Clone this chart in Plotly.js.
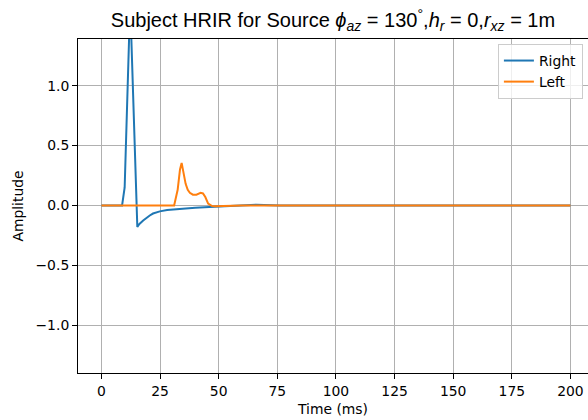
<!DOCTYPE html>
<html>
<head>
<meta charset="utf-8">
<script src="https://cdn.plot.ly/plotly-3.0.1.min.js"></script>
<style>html,body{margin:0;padding:0;background:#fff;}#chart{width:588px;height:420px;}</style>
</head>
<body>
<div id="chart"></div>
<script>
// Right ear HRIR
const timeRight = [0, 8.8, 9.9, 12.25, 15.3, 16.2, 17.8, 19.2, 20.6, 22.0, 24.9, 28.0, 33.4, 40.0, 46.0, 56.0, 66.0, 76.0, 200];
const ampRight  = [0, 0, 0.15, 1.70, -0.18, -0.155, -0.126, -0.103, -0.084, -0.068, -0.050, -0.038, -0.028, -0.020, -0.014, -0.003, 0.006, 0, 0];
// Left ear HRIR
const timeLeft = [0, 31.0, 32.5, 33.5, 34.2, 35.0, 35.9, 36.8, 37.7, 39.0, 40.5, 42.3, 43.3, 44.3, 45.5, 47.0, 48.5, 52.0, 60.0, 200];
const ampLeft  = [0, 0, 0.13, 0.30, 0.355, 0.28, 0.18, 0.13, 0.105, 0.09, 0.09, 0.105, 0.10, 0.07, 0.015, -0.004, -0.008, -0.005, 0, 0];

const xTicks = [0, 25, 50, 75, 100, 125, 150, 175, 200];
const yTicks = [-1.0, -0.5, 0.0, 0.5, 1.0];
const seriesNames = ["Right", "Left"];

const tickFont = {family: "DejaVu Sans", size: 13.9, color: "#000"};

const traces = [
  {x: timeRight, y: ampRight, name: seriesNames[0], mode: "lines",
   line: {color: "#1f77b4", width: 2}},
  {x: timeLeft, y: ampLeft, name: seriesNames[1], mode: "lines",
   line: {color: "#ff7f0e", width: 2}}
];

const layout = {
  width: 588, height: 420,
  margin: {l: 78, r: 0, t: 39, b: 47, pad: 0},
  paper_bgcolor: "#fff", plot_bgcolor: "#fff",
  showlegend: true,
  title: {
    text: "Subject HRIR for Source <i>ϕ</i><sub><i>az</i></sub> = 130<sup>°</sup>,<i>h</i><sub><i>r</i></sub> = 0,<i>r</i><sub><i>xz</i></sub> = 1m",
    font: {family: "Liberation Sans", size: 20, color: "#000"},
    x: 0.5, xref: "paper", xanchor: "center",
    y: 0.952, yref: "container", yanchor: "middle"
  },
  xaxis: {
    range: [-10, 207.5], tickvals: xTicks, ticktext: xTicks.map(String),
    showgrid: true, gridcolor: "#b0b0b0", gridwidth: 1,
    zeroline: false, showline: true, linecolor: "#000", linewidth: 1, mirror: true,
    ticks: "outside", ticklen: 5, tickcolor: "#000", tickwidth: 1,
    tickfont: tickFont,
    title: {text: "Time (ms)", font: tickFont, standoff: 6}
  },
  yaxis: {
    range: [-1.4, 1.39], tickvals: yTicks, ticktext: yTicks.map(v => v.toFixed(1).replace("-", "\u2212")),
    showgrid: true, gridcolor: "#b0b0b0", gridwidth: 1,
    zeroline: false, showline: true, linecolor: "#000", linewidth: 1, mirror: false,
    ticks: "outside", ticklen: 5, tickcolor: "#000", tickwidth: 1,
    tickfont: tickFont,
    title: {text: "Amplitude", font: tickFont, standoff: 8}
  },
  legend: {
    x: 0.99, y: 0.985, xanchor: "right", yanchor: "top",
    bgcolor: "rgba(255,255,255,0.8)", bordercolor: "#cccccc", borderwidth: 1,
    font: tickFont, itemwidth: 30, tracegroupgap: 0
  }
};

Plotly.newPlot("chart", traces, layout, {staticPlot: true, displayModeBar: false});
</script>
</body>
</html>
